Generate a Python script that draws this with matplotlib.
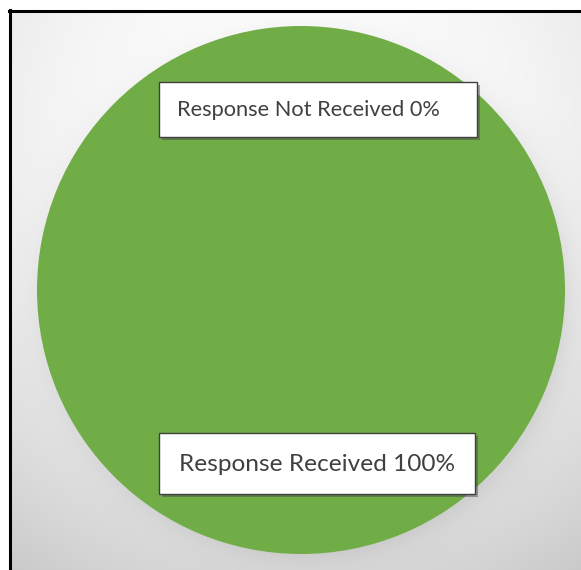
import numpy as np
import matplotlib.pyplot as plt
from matplotlib.patches import Rectangle
from matplotlib import patheffects

# Data
categories = ["Response Not Received", "Response Received"]
values = [0, 100]
colors = ["#ED7D31", "#70AD47"]

W, H = 581, 570
fig = plt.figure(figsize=(W / 100, H / 100), dpi=100)
fig.patch.set_facecolor("white")


def pixel_axes(z):
    ax = fig.add_axes([0, 0, 1, 1], zorder=z)
    ax.set_xlim(0, W)
    ax.set_ylim(H, 0)
    ax.axis("off")
    ax.patch.set_alpha(0)
    return ax


# background: radial grey gradient with soft shadow around the pie
bg = pixel_axes(0)
cx, cy, R = 301, 290, 264
yy, xx = np.mgrid[0:H, 0:W]
d = np.hypot(xx - 290, yy - 120)
shade = 1 - 0.19 * (d / 510) ** 2
r = np.hypot(xx - cx, yy - cy)
ring = np.where(r > R - 3, np.exp(-np.clip(r - R, 0, None) / 14.0), 0)
shade = shade - 0.06 * ring
img = np.clip(shade, 0, 1)
bg.imshow(np.dstack([img, img, img]), extent=(9, W, H, 11), zorder=0,
          aspect="auto", interpolation="bilinear")
bg.plot([10, 10], [10, H], color="black", lw=2.2, zorder=5)
bg.plot([9, W], [11, 11], color="black", lw=2.2, zorder=5)

# pie
pax = fig.add_axes([(cx - R) / W, (H - cy - R) / H, 2 * R / W, 2 * R / H], zorder=1)
wedges, _ = pax.pie(values, colors=colors, startangle=90, counterclock=False,
                    wedgeprops=dict(linewidth=0))
pax.set_xlim(-1, 1)
pax.set_ylim(-1, 1)
pax.set_aspect("auto")
pax.axis("off")

# data labels (Excel style boxes) on top
lab = pixel_axes(2)
boxes = [(159, 82, 318, 55), (159, 433, 316, 61)]
text_widths = [263, 276]
fam = ["Lato", "DejaVu Sans"]
renderer = fig.canvas.get_renderer()
for cat, val, (bx, by, bw, bh), tw in zip(categories, values, boxes, text_widths):
    rect = Rectangle((bx, by), bw, bh, facecolor="white", edgecolor="#404040",
                     lw=1.0, zorder=6)
    rect.set_path_effects([patheffects.SimplePatchShadow(offset=(2, -2), alpha=0.5),
                           patheffects.Normal()])
    lab.add_patch(rect)
    t = lab.text(bx + 18, by + bh / 2 + 1, f"{cat} {val}%", ha="left", va="center",
                 fontsize=14, family=fam, color="#404040", zorder=7)
    w = t.get_window_extent(renderer).width
    t.set_fontsize(14 * tw / w)
    if val == 100:
        t.set_x(bx + bw / 2)
        t.set_ha("center")

fig.savefig("out.png", dpi=100)
